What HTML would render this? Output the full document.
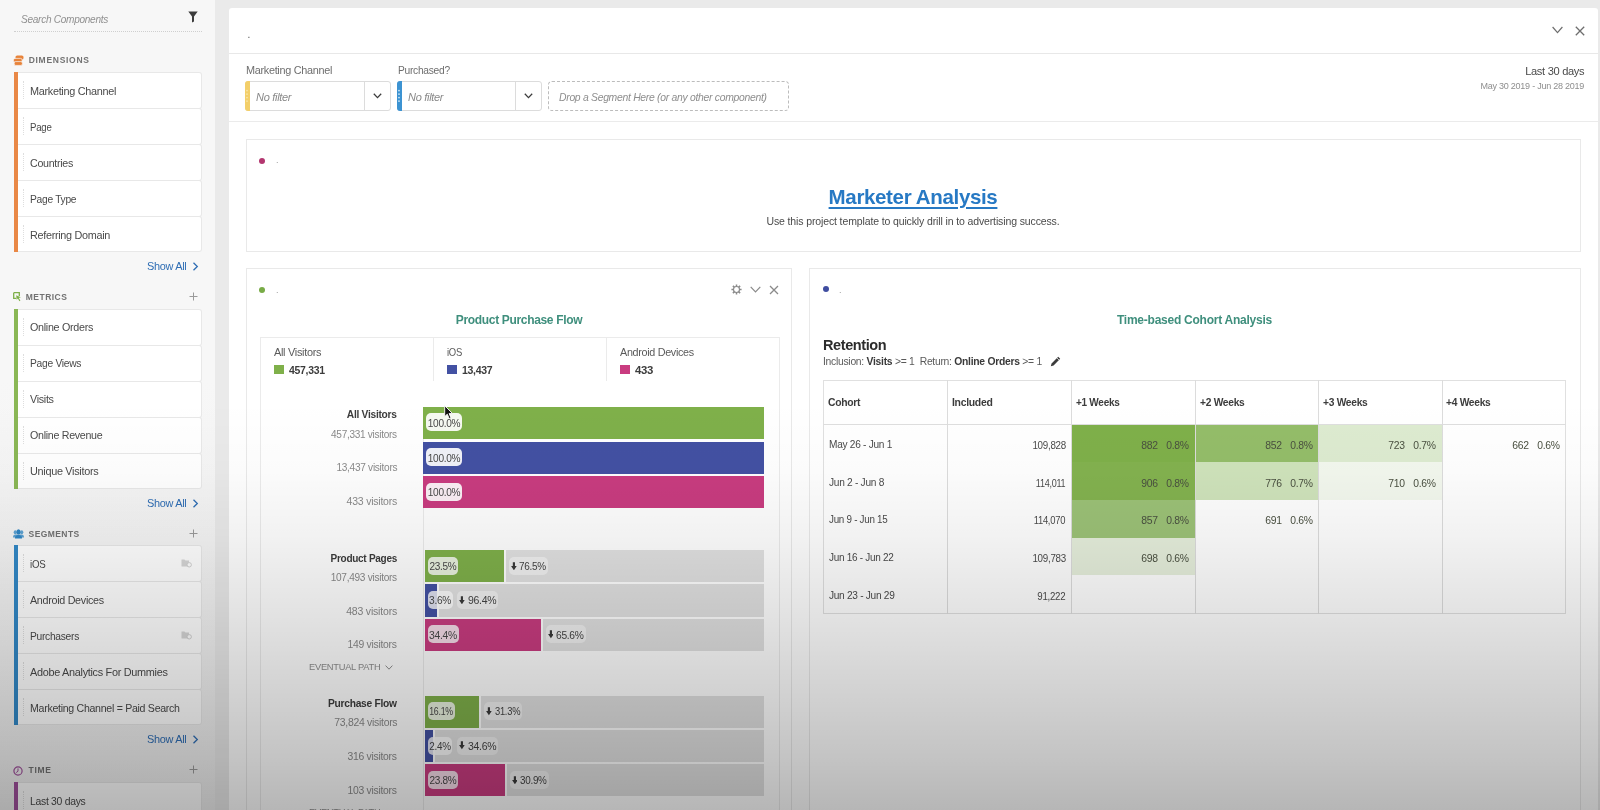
<!DOCTYPE html>
<html><head><meta charset="utf-8"><title>Analysis Workspace</title>
<style>
html,body{margin:0;padding:0;}
html{background:#eaeaea;}
body{width:1600px;height:810px;overflow:hidden;position:relative;background:#eaeaea;font-family:"Liberation Sans",sans-serif;}
#w{left:-4px;top:-4px;width:1608px;height:818px;filter:blur(.4px);}
#w>#o{left:4px;top:4px;width:1600px;height:810px;}
div,span,svg{position:absolute;box-sizing:border-box;}
.t{white-space:nowrap;}

.box{background:#fff;border:1px solid #e9e9e9;}
.item{left:14px;width:188px;height:36px;background:#fff;border:1px solid #e8e8e8;border-left:none;border-radius:0 3px 3px 0;}
.bar{left:14px;width:4px;}
.lbl{background:rgba(255,255,255,.82);border-radius:5px;}
.lbl1{background:rgba(255,255,255,.92);border-radius:5px;}
.lbl2{background:rgba(255,255,255,.5);border-radius:5px;}

</style></head><body>
<div id="w"><div id="o">
<div style="left:0px;top:0px;width:215px;height:810px;background:linear-gradient(to bottom,#f7f7f7 0px,#f7f7f7 380px,#efefef 810px);"></div>
<div style="left:229px;top:8px;width:1368.5px;height:810px;background:#fff;border-radius:3px 3px 0 0;"></div>
<span class="t" style="top:12.0px;font-size:11.5px;line-height:15px;color:#909090;font-style:italic;left:21px;transform-origin:0 50%;transform:scaleX(0.8755);letter-spacing:-0.322px;">Search Components</span>
<svg style="left:188px;top:10.5px" width="10" height="12" viewBox="0 0 10 12"><path d="M0.3 0.6 H9.7 L6 5.6 V10.6 L4 11.4 V5.6 Z" fill="#3c3c3c"/></svg>
<div style="left:14px;top:31px;width:188px;height:1px;border-top:1px dotted #cfcfcf;"></div>
<span class="t" style="top:55.0px;font-size:8.5px;line-height:11px;color:#727272;font-weight:bold;left:28.7px;letter-spacing:0.716px;">DIMENSIONS</span>
<div class="item" style="left:14px;top:72px;width:188px;height:37px;"></div>
<span class="t" style="top:83.7px;font-size:11px;line-height:14px;color:#4a4a4a;left:30px;transform-origin:0 50%;transform:scaleX(0.9873);letter-spacing:-0.308px;">Marketing Channel</span>
<div style="left:23px;top:81px;width:1px;height:18px;border-left:1px dotted #dedede;"></div>
<div class="item" style="left:14px;top:108px;width:188px;height:37px;"></div>
<span class="t" style="top:119.7px;font-size:11px;line-height:14px;color:#4a4a4a;left:30px;transform-origin:0 50%;transform:scaleX(0.8786);letter-spacing:-0.308px;">Page</span>
<div style="left:23px;top:117px;width:1px;height:18px;border-left:1px dotted #dedede;"></div>
<div class="item" style="left:14px;top:144px;width:188px;height:37px;"></div>
<span class="t" style="top:155.7px;font-size:11px;line-height:14px;color:#4a4a4a;left:30px;transform-origin:0 50%;transform:scaleX(0.9705);letter-spacing:-0.308px;">Countries</span>
<div style="left:23px;top:153px;width:1px;height:18px;border-left:1px dotted #dedede;"></div>
<div class="item" style="left:14px;top:180px;width:188px;height:37px;"></div>
<span class="t" style="top:191.7px;font-size:11px;line-height:14px;color:#4a4a4a;left:30px;transform-origin:0 50%;transform:scaleX(0.9328);letter-spacing:-0.308px;">Page Type</span>
<div style="left:23px;top:189px;width:1px;height:18px;border-left:1px dotted #dedede;"></div>
<div class="item" style="left:14px;top:216px;width:188px;height:36px;"></div>
<span class="t" style="top:227.7px;font-size:11px;line-height:14px;color:#4a4a4a;left:30px;transform-origin:0 50%;transform:scaleX(0.9843);letter-spacing:-0.308px;">Referring Domain</span>
<div style="left:23px;top:225px;width:1px;height:18px;border-left:1px dotted #dedede;"></div>
<div style="left:14px;top:72px;width:4px;height:180px;background:#e98846;"></div>
<span class="t" style="top:291.5px;font-size:8.5px;line-height:11px;color:#727272;font-weight:bold;left:25.8px;letter-spacing:0.464px;">METRICS</span>
<svg style="left:189px;top:291.5px" width="9" height="9" viewBox="0 0 9 9"><path d="M4.5 0.5V8.5M0.5 4.5H8.5" stroke="#9a9a9a" stroke-width="1" fill="none"/></svg>
<div class="item" style="left:14px;top:308.5px;width:188px;height:37px;"></div>
<span class="t" style="top:320.2px;font-size:11px;line-height:14px;color:#4a4a4a;left:30px;transform-origin:0 50%;transform:scaleX(0.9770);letter-spacing:-0.308px;">Online Orders</span>
<div style="left:23px;top:317.5px;width:1px;height:18px;border-left:1px dotted #dedede;"></div>
<div class="item" style="left:14px;top:344.5px;width:188px;height:37px;"></div>
<span class="t" style="top:356.2px;font-size:11px;line-height:14px;color:#4a4a4a;left:30px;transform-origin:0 50%;transform:scaleX(0.9341);letter-spacing:-0.308px;">Page Views</span>
<div style="left:23px;top:353.5px;width:1px;height:18px;border-left:1px dotted #dedede;"></div>
<div class="item" style="left:14px;top:380.5px;width:188px;height:37px;"></div>
<span class="t" style="top:392.2px;font-size:11px;line-height:14px;color:#4a4a4a;left:30px;transform-origin:0 50%;transform:scaleX(0.9775);letter-spacing:-0.308px;">Visits</span>
<div style="left:23px;top:389.5px;width:1px;height:18px;border-left:1px dotted #dedede;"></div>
<div class="item" style="left:14px;top:416.5px;width:188px;height:37px;"></div>
<span class="t" style="top:428.2px;font-size:11px;line-height:14px;color:#4a4a4a;left:30px;transform-origin:0 50%;transform:scaleX(0.9708);letter-spacing:-0.308px;">Online Revenue</span>
<div style="left:23px;top:425.5px;width:1px;height:18px;border-left:1px dotted #dedede;"></div>
<div class="item" style="left:14px;top:452.5px;width:188px;height:36px;"></div>
<span class="t" style="top:464.2px;font-size:11px;line-height:14px;color:#4a4a4a;left:30px;transform-origin:0 50%;transform:scaleX(0.9890);letter-spacing:-0.308px;">Unique Visitors</span>
<div style="left:23px;top:461.5px;width:1px;height:18px;border-left:1px dotted #dedede;"></div>
<div style="left:14px;top:308.5px;width:4px;height:180px;background:#8ab755;"></div>
<span class="t" style="top:528.5px;font-size:8.5px;line-height:11px;color:#727272;font-weight:bold;left:28.6px;letter-spacing:0.412px;">SEGMENTS</span>
<svg style="left:189px;top:528.5px" width="9" height="9" viewBox="0 0 9 9"><path d="M4.5 0.5V8.5M0.5 4.5H8.5" stroke="#9a9a9a" stroke-width="1" fill="none"/></svg>
<div class="item" style="left:14px;top:545px;width:188px;height:37px;"></div>
<span class="t" style="top:556.7px;font-size:11px;line-height:14px;color:#4a4a4a;left:30px;transform-origin:0 50%;transform:scaleX(0.8841);letter-spacing:-0.308px;">iOS</span>
<div style="left:23px;top:554px;width:1px;height:18px;border-left:1px dotted #dedede;"></div>
<div class="item" style="left:14px;top:581px;width:188px;height:37px;"></div>
<span class="t" style="top:592.7px;font-size:11px;line-height:14px;color:#4a4a4a;left:30px;transform-origin:0 50%;transform:scaleX(0.9778);letter-spacing:-0.308px;">Android Devices</span>
<div style="left:23px;top:590px;width:1px;height:18px;border-left:1px dotted #dedede;"></div>
<div class="item" style="left:14px;top:617px;width:188px;height:37px;"></div>
<span class="t" style="top:628.7px;font-size:11px;line-height:14px;color:#4a4a4a;left:30px;transform-origin:0 50%;transform:scaleX(0.9323);letter-spacing:-0.308px;">Purchasers</span>
<div style="left:23px;top:626px;width:1px;height:18px;border-left:1px dotted #dedede;"></div>
<div class="item" style="left:14px;top:653px;width:188px;height:37px;"></div>
<span class="t" style="top:664.7px;font-size:11px;line-height:14px;color:#4a4a4a;left:30px;transform-origin:0 50%;transform:scaleX(0.9897);letter-spacing:-0.308px;">Adobe Analytics For Dummies</span>
<div style="left:23px;top:662px;width:1px;height:18px;border-left:1px dotted #dedede;"></div>
<div class="item" style="left:14px;top:689px;width:188px;height:36px;"></div>
<span class="t" style="top:700.7px;font-size:11px;line-height:14px;color:#4a4a4a;left:30px;transform-origin:0 50%;transform:scaleX(0.9643);letter-spacing:-0.308px;">Marketing Channel = Paid Search</span>
<div style="left:23px;top:698px;width:1px;height:18px;border-left:1px dotted #dedede;"></div>
<div style="left:14px;top:545px;width:4px;height:180px;background:#3288c6;"></div>
<span class="t" style="top:764.5px;font-size:8.5px;line-height:11px;color:#727272;font-weight:bold;left:28.6px;letter-spacing:0.672px;">TIME</span>
<svg style="left:189px;top:764.5px" width="9" height="9" viewBox="0 0 9 9"><path d="M4.5 0.5V8.5M0.5 4.5H8.5" stroke="#9a9a9a" stroke-width="1" fill="none"/></svg>
<div class="item" style="left:14px;top:782px;width:188px;height:36px;"></div>
<span class="t" style="top:793.7px;font-size:11px;line-height:14px;color:#4a4a4a;left:30px;transform-origin:0 50%;transform:scaleX(0.9458);letter-spacing:-0.308px;">Last 30 days</span>
<div style="left:23px;top:791px;width:1px;height:18px;border-left:1px dotted #dedede;"></div>
<div style="left:14px;top:782px;width:4px;height:36px;background:#a0509c;"></div>
<span class="t" style="top:259.0px;font-size:11px;line-height:14px;color:#2e6db4;left:146.6px;transform-origin:0 50%;transform:scaleX(0.9940);letter-spacing:-0.308px;">Show All</span>
<svg style="left:192px;top:261.5px" width="7" height="9" viewBox="0 0 7 9"><path d="M1.5 0.8L5.3 4.5L1.5 8.2" stroke="#2e6db4" stroke-width="1.3" fill="none"/></svg>
<span class="t" style="top:496.0px;font-size:11px;line-height:14px;color:#2e6db4;left:146.6px;transform-origin:0 50%;transform:scaleX(0.9940);letter-spacing:-0.308px;">Show All</span>
<svg style="left:192px;top:498.5px" width="7" height="9" viewBox="0 0 7 9"><path d="M1.5 0.8L5.3 4.5L1.5 8.2" stroke="#2e6db4" stroke-width="1.3" fill="none"/></svg>
<span class="t" style="top:732.3px;font-size:11px;line-height:14px;color:#2e6db4;left:146.6px;transform-origin:0 50%;transform:scaleX(0.9940);letter-spacing:-0.308px;">Show All</span>
<svg style="left:192px;top:734.8px" width="7" height="9" viewBox="0 0 7 9"><path d="M1.5 0.8L5.3 4.5L1.5 8.2" stroke="#2e6db4" stroke-width="1.3" fill="none"/></svg>
<svg style="left:12.5px;top:55px" width="11" height="11" viewBox="0 0 11 11"><rect x="2.5" y="0.5" width="8" height="4.2" rx="1.6" fill="#e8833a"/><rect x="0.5" y="3.4" width="8.6" height="3.8" rx="1.5" fill="#e8833a" stroke="#f7f7f7" stroke-width=".7"/><rect x="1.2" y="6.6" width="8.2" height="3.8" rx="1.5" fill="#e8833a" stroke="#f7f7f7" stroke-width=".7"/></svg>
<svg style="left:12.5px;top:292px" width="9" height="10" viewBox="0 0 9 10"><path d="M0.7 0.7H6.3V4" stroke="#7fb04a" stroke-width="1.3" fill="none"/><path d="M0.7 0.7V6.3H3.2" stroke="#7fb04a" stroke-width="1.3" fill="none"/><path d="M3.2 3.2L7.8 5.2L5.8 6L7.4 8.6L6.4 9.2L4.9 6.6L3.6 7.8Z" fill="#7fb04a"/></svg>
<svg style="left:12.8px;top:528.6px" width="11" height="10" viewBox="0 0 11 10"><g fill="#5ea3d3"><ellipse cx="2.3" cy="3.3" rx="1.6" ry="2"/><ellipse cx="8.7" cy="3.3" rx="1.6" ry="2"/><path d="M0 8.6C0 6.6 .8 5.6 2.3 5.6H8.7C10.2 5.6 11 6.6 11 8.6Z"/></g><g fill="#2f86c5"><ellipse cx="5.5" cy="2.9" rx="2.1" ry="2.6"/><path d="M1.9 9.6C1.9 7.2 3.2 5.9 5.5 5.9S9.1 7.2 9.1 9.6Z"/></g></svg>
<svg style="left:13px;top:765.5px" width="10" height="10" viewBox="0 0 10 10"><circle cx="5" cy="5" r="4.1" stroke="#a0509c" stroke-width="1.2" fill="none"/><path d="M5 2.4V5.2L3.2 6.6" stroke="#a0509c" stroke-width="1" fill="none"/></svg>
<svg style="left:180.5px;top:558px" width="11" height="10" viewBox="0 0 11 10"><path d="M0.5 1.5H3.5L4.5 2.5H8V8.5H0.5Z" fill="#d6d6d6"/><circle cx="8.2" cy="6.8" r="2.2" fill="#fff" stroke="#d0d0d0" stroke-width="1"/></svg>
<svg style="left:180.5px;top:630.4px" width="11" height="10" viewBox="0 0 11 10"><path d="M0.5 1.5H3.5L4.5 2.5H8V8.5H0.5Z" fill="#d6d6d6"/><circle cx="8.2" cy="6.8" r="2.2" fill="#fff" stroke="#d0d0d0" stroke-width="1"/></svg>
<div style="left:229px;top:53px;width:1368.5px;height:1px;background:#e8e8e8;"></div>
<div style="left:229px;top:120.5px;width:1368.5px;height:1px;background:#ebebeb;"></div>
<span class="t" style="top:27.5px;font-size:10px;line-height:13px;color:#555;left:247.5px;">.</span>
<svg style="left:1552px;top:26px" width="11" height="8" viewBox="0 0 11 8"><path d="M0.6 1L5.5 6.6L10.4 1" stroke="#6e6e6e" stroke-width="1.2" fill="none"/></svg>
<svg style="left:1575px;top:25.5px" width="10" height="10" viewBox="0 0 10 10"><path d="M0.8 0.8L9.2 9.2M9.2 0.8L0.8 9.2" stroke="#6e6e6e" stroke-width="1.3" fill="none"/></svg>
<span class="t" style="top:63.0px;font-size:11px;line-height:14px;color:#6e6e6e;left:246.2px;transform-origin:0 50%;transform:scaleX(0.9873);letter-spacing:-0.308px;">Marketing Channel</span>
<span class="t" style="top:63.0px;font-size:11px;line-height:14px;color:#6e6e6e;left:397.7px;transform-origin:0 50%;transform:scaleX(0.9310);letter-spacing:-0.308px;">Purchased?</span>
<div style="left:244.5px;top:81px;width:146px;height:29.5px;background:#fff;border:1px solid #dcdcdc;border-radius:3px;"></div>
<div style="left:244.5px;top:81px;width:5.5px;height:29.5px;background:#f3cf6a;border-radius:3px 0 0 3px;"></div>
<div style="left:364px;top:81px;width:1px;height:29.5px;background:#dcdcdc;"></div>
<svg style="left:372.5px;top:93px" width="9" height="6" viewBox="0 0 9 6"><path d="M0.8 0.8L4.5 4.6L8.2 0.8" stroke="#3c3c3c" stroke-width="1.3" fill="none"/></svg>
<span class="t" style="top:89.6px;font-size:11px;line-height:14px;color:#8a8a8a;font-style:italic;left:256.1px;letter-spacing:-0.308px;">No filter</span>
<svg style="left:245.3px;top:89px" width="4" height="14" viewBox="0 0 4 14"><g fill="#f9e6ac"><circle cx="2" cy="1.6" r=".85"/><circle cx="2" cy="5.1" r=".85"/><circle cx="2" cy="8.6" r=".85"/><circle cx="2" cy="12.1" r=".85"/></g></svg>
<div style="left:396.5px;top:81px;width:145.3px;height:29.5px;background:#fff;border:1px solid #dcdcdc;border-radius:3px;"></div>
<div style="left:396.5px;top:81px;width:5.5px;height:29.5px;background:#3c93d2;border-radius:3px 0 0 3px;"></div>
<div style="left:515.3px;top:81px;width:1px;height:29.5px;background:#dcdcdc;"></div>
<svg style="left:523.8px;top:93px" width="9" height="6" viewBox="0 0 9 6"><path d="M0.8 0.8L4.5 4.6L8.2 0.8" stroke="#3c3c3c" stroke-width="1.3" fill="none"/></svg>
<span class="t" style="top:89.6px;font-size:11px;line-height:14px;color:#8a8a8a;font-style:italic;left:408.1px;letter-spacing:-0.308px;">No filter</span>
<svg style="left:397.3px;top:89px" width="4" height="14" viewBox="0 0 4 14"><g fill="#d9ecf8"><circle cx="2" cy="1.6" r=".85"/><circle cx="2" cy="5.1" r=".85"/><circle cx="2" cy="8.6" r=".85"/><circle cx="2" cy="12.1" r=".85"/></g></svg>
<div style="left:548px;top:81px;width:241px;height:29.5px;border:1px dashed #bcbcbc;border-radius:4px;"></div>
<span class="t" style="top:89.6px;font-size:10.5px;line-height:14px;color:#8e8e8e;font-style:italic;left:559.3px;transform-origin:0 50%;transform:scaleX(0.9890);letter-spacing:-0.294px;">Drop a Segment Here (or any other component)</span>
<span class="t" style="top:63.5px;font-size:11.5px;line-height:15px;color:#4a4a4a;right:15.6px;transform-origin:100% 50%;transform:scaleX(0.9649);letter-spacing:-0.322px;">Last 30 days</span>
<span class="t" style="top:80.2px;font-size:9.5px;line-height:12px;color:#8e8e8e;right:15.6px;transform-origin:100% 50%;transform:scaleX(0.9494);letter-spacing:-0.266px;">May 30 2019 - Jun 28 2019</span>
<div class="box" style="left:246px;top:138.5px;width:1334.5px;height:113px;"></div>
<div style="left:259px;top:158px;width:6px;height:6px;background:#b3366f;border-radius:50%;"></div>
<span class="t" style="top:154.0px;font-size:9px;line-height:12px;color:#999;left:276px;">.</span>
<span class="t" style="top:183.0px;font-size:20.5px;line-height:27px;color:#2779c4;font-weight:bold;left:913px;transform:translateX(-50%);letter-spacing:-0.349px;text-decoration:underline;text-decoration-thickness:1.5px;text-underline-offset:2.5px;">Marketer Analysis</span>
<span class="t" style="top:213.5px;font-size:10.5px;line-height:14px;color:#4a4a4a;left:913px;transform:translateX(-50%);letter-spacing:-0.126px;">Use this project template to quickly drill in to advertising success.</span>
<div class="box" style="left:246px;top:267.5px;width:546px;height:560px;"></div>
<div style="left:259px;top:287px;width:6px;height:6px;background:#78ab46;border-radius:50%;"></div>
<span class="t" style="top:283.5px;font-size:9px;line-height:12px;color:#999;left:276px;">.</span>
<svg style="left:730.5px;top:283.5px" width="11" height="11" viewBox="0 0 11 11"><g stroke="#8a8a8a" stroke-width="1.5" fill="none"><path d="M5.5 0.4V10.6M0.4 5.5H10.6M1.9 1.9L9.1 9.1M9.1 1.9L1.9 9.1"/></g><circle cx="5.5" cy="5.5" r="3" fill="#fff" stroke="#8a8a8a" stroke-width="1.1"/></svg>
<svg style="left:750px;top:286px" width="11" height="7" viewBox="0 0 11 7"><path d="M0.7 0.8L5.5 5.8L10.3 0.8" stroke="#8a8a8a" stroke-width="1.2" fill="none"/></svg>
<svg style="left:768.5px;top:284.5px" width="10" height="10" viewBox="0 0 10 10"><path d="M1 1L9 9M9 1L1 9" stroke="#8a8a8a" stroke-width="1.3" fill="none"/></svg>
<span class="t" style="top:312.0px;font-size:12px;line-height:16px;color:#3f8f7d;font-weight:bold;left:519px;transform:translateX(-50%);letter-spacing:-0.336px;">Product Purchase Flow</span>
<div style="left:260px;top:336.5px;width:519.5px;height:500px;border:1px solid #ebebeb;background:#fff;"></div>
<div style="left:433px;top:337px;width:1px;height:43.5px;background:#ebebeb;"></div>
<div style="left:606px;top:337px;width:1px;height:43.5px;background:#ebebeb;"></div>
<span class="t" style="top:345.0px;font-size:11px;line-height:14px;color:#5a5a5a;left:274px;transform-origin:0 50%;transform:scaleX(0.9945);letter-spacing:-0.308px;">All Visitors</span>
<div style="left:274px;top:364.5px;width:9.7px;height:9.5px;background:#7fb04a;"></div>
<span class="t" style="top:362.7px;font-size:11.5px;line-height:15px;color:#3c3c3c;font-weight:bold;left:288.7px;transform-origin:0 50%;transform:scaleX(0.9078);letter-spacing:-0.322px;">457,331</span>
<span class="t" style="top:345.0px;font-size:11px;line-height:14px;color:#5a5a5a;left:447px;transform-origin:0 50%;transform:scaleX(0.8611);letter-spacing:-0.308px;">iOS</span>
<div style="left:447px;top:364.5px;width:9.7px;height:9.5px;background:#4351a3;"></div>
<span class="t" style="top:362.7px;font-size:11.5px;line-height:15px;color:#3c3c3c;font-weight:bold;left:461.7px;transform-origin:0 50%;transform:scaleX(0.9141);letter-spacing:-0.322px;">13,437</span>
<span class="t" style="top:345.0px;font-size:11px;line-height:14px;color:#5a5a5a;left:620px;transform-origin:0 50%;transform:scaleX(0.9791);letter-spacing:-0.308px;">Android Devices</span>
<div style="left:620px;top:364.5px;width:9.7px;height:9.5px;background:#c93c80;"></div>
<span class="t" style="top:362.7px;font-size:11.5px;line-height:15px;color:#3c3c3c;font-weight:bold;left:634.7px;transform-origin:0 50%;transform:scaleX(0.9878);letter-spacing:-0.322px;">433</span>
<div style="left:423px;top:439px;width:1px;height:400px;background:#ebebeb;"></div>
<span class="t" style="top:407.1px;font-size:11px;line-height:14px;color:#3c3c3c;font-weight:bold;right:1203px;transform-origin:100% 50%;transform:scaleX(0.9278);letter-spacing:-0.308px;">All Visitors</span>
<span class="t" style="top:426.8px;font-size:10.5px;line-height:14px;color:#8a8a8a;right:1203px;transform-origin:100% 50%;transform:scaleX(0.9558);letter-spacing:-0.294px;">457,331 visitors</span>
<span class="t" style="top:460.4px;font-size:10.5px;line-height:14px;color:#8a8a8a;right:1203px;transform-origin:100% 50%;transform:scaleX(0.9622);letter-spacing:-0.294px;">13,437 visitors</span>
<span class="t" style="top:494.0px;font-size:10.5px;line-height:14px;color:#8a8a8a;right:1203px;letter-spacing:-0.226px;">433 visitors</span>
<div style="left:423.3px;top:406.8px;width:340.7px;height:32.2px;background:#7fb04a;"></div>
<div class="lbl1" style="left:425.9px;top:413.4px;width:35.8px;height:18px;"></div>
<span class="t" style="top:415.7px;font-size:11px;line-height:14px;color:#484848;left:443.8px;transform:translateX(-50%) scaleX(0.9192);letter-spacing:-0.308px;">100.0%</span>
<div style="left:423.3px;top:441.55px;width:340.7px;height:32.2px;background:#4351a3;"></div>
<div class="lbl1" style="left:425.9px;top:448.15px;width:35.8px;height:18px;"></div>
<span class="t" style="top:450.5px;font-size:11px;line-height:14px;color:#484848;left:443.8px;transform:translateX(-50%) scaleX(0.9192);letter-spacing:-0.308px;">100.0%</span>
<div style="left:423.3px;top:476.3px;width:340.7px;height:32.2px;background:#c93c80;"></div>
<div class="lbl1" style="left:425.9px;top:482.9px;width:35.8px;height:18px;"></div>
<span class="t" style="top:485.2px;font-size:11px;line-height:14px;color:#484848;left:443.8px;transform:translateX(-50%) scaleX(0.9192);letter-spacing:-0.308px;">100.0%</span>
<span class="t" style="top:551.0px;font-size:11px;line-height:14px;color:#3c3c3c;font-weight:bold;right:1203px;transform-origin:100% 50%;transform:scaleX(0.9106);letter-spacing:-0.308px;">Product Pages</span>
<span class="t" style="top:570.0px;font-size:10.5px;line-height:14px;color:#8a8a8a;right:1203px;transform-origin:100% 50%;transform:scaleX(0.9616);letter-spacing:-0.294px;">107,493 visitors</span>
<span class="t" style="top:603.6px;font-size:10.5px;line-height:14px;color:#8a8a8a;right:1203px;letter-spacing:-0.192px;">483 visitors</span>
<span class="t" style="top:637.2px;font-size:10.5px;line-height:14px;color:#8a8a8a;right:1203px;transform-origin:100% 50%;transform:scaleX(0.9883);letter-spacing:-0.294px;">149 visitors</span>
<div style="left:506.3px;top:550px;width:257.7px;height:32.2px;background:#e1e1e1;"></div>
<div style="left:425.2px;top:550px;width:79.3px;height:32.2px;background:#7fb04a;"></div>
<div class="lbl" style="left:427.8px;top:556.6px;width:30.2px;height:18px;"></div>
<span class="t" style="top:558.9px;font-size:11px;line-height:14px;color:#484848;left:442.9px;transform:translateX(-50%) scaleX(0.9102);letter-spacing:-0.308px;">23.5%</span>
<div class="lbl2" style="left:508.7px;top:556.6px;width:39.5px;height:18px;"></div>
<svg style="left:510.8px;top:561.5px" width="5.8" height="8.6" viewBox="0 0 7 9" preserveAspectRatio="none"><path d="M2.2 0.3H4.8V4.3H6.9L3.5 8.7L0.1 4.3H2.2Z" fill="#3a3a3a"/></svg>
<span class="t" style="top:558.9px;font-size:11px;line-height:14px;color:#444;left:519.2px;transform-origin:0 50%;transform:scaleX(0.9068);letter-spacing:-0.308px;">76.5%</span>
<div style="left:438.8px;top:584.4px;width:325.2px;height:32.2px;background:#e1e1e1;"></div>
<div style="left:425.2px;top:584.4px;width:11.8px;height:32.2px;background:#4351a3;"></div>
<div class="lbl" style="left:427.8px;top:591px;width:25.1px;height:18px;"></div>
<span class="t" style="top:593.3px;font-size:11px;line-height:14px;color:#484848;left:440.35px;transform:translateX(-50%) scaleX(0.9184);letter-spacing:-0.308px;">3.6%</span>
<div class="lbl2" style="left:457.2px;top:591px;width:40.9px;height:18px;"></div>
<svg style="left:459.3px;top:595.9px" width="5.8" height="8.6" viewBox="0 0 7 9" preserveAspectRatio="none"><path d="M2.2 0.3H4.8V4.3H6.9L3.5 8.7L0.1 4.3H2.2Z" fill="#3a3a3a"/></svg>
<span class="t" style="top:593.3px;font-size:11px;line-height:14px;color:#444;left:467.7px;transform-origin:0 50%;transform:scaleX(0.9540);letter-spacing:-0.308px;">96.4%</span>
<div style="left:542.9px;top:618.8px;width:221.1px;height:32.2px;background:#e1e1e1;"></div>
<div style="left:425.2px;top:618.8px;width:115.9px;height:32.2px;background:#c93c80;"></div>
<div class="lbl" style="left:427.8px;top:625.4px;width:31.2px;height:18px;"></div>
<span class="t" style="top:627.7px;font-size:11px;line-height:14px;color:#484848;left:443.4px;transform:translateX(-50%) scaleX(0.9439);letter-spacing:-0.308px;">34.4%</span>
<div class="lbl2" style="left:545.6px;top:625.4px;width:40.2px;height:18px;"></div>
<svg style="left:547.7px;top:630.3px" width="5.8" height="8.6" viewBox="0 0 7 9" preserveAspectRatio="none"><path d="M2.2 0.3H4.8V4.3H6.9L3.5 8.7L0.1 4.3H2.2Z" fill="#3a3a3a"/></svg>
<span class="t" style="top:627.7px;font-size:11px;line-height:14px;color:#444;left:556.1px;transform-origin:0 50%;transform:scaleX(0.9304);letter-spacing:-0.308px;">65.6%</span>
<span class="t" style="top:696.0px;font-size:11px;line-height:14px;color:#3c3c3c;font-weight:bold;right:1203px;transform-origin:100% 50%;transform:scaleX(0.9316);letter-spacing:-0.308px;">Purchase Flow</span>
<span class="t" style="top:714.9px;font-size:10.5px;line-height:14px;color:#8a8a8a;right:1203px;transform-origin:100% 50%;transform:scaleX(0.9954);letter-spacing:-0.294px;">73,824 visitors</span>
<span class="t" style="top:749.1px;font-size:10.5px;line-height:14px;color:#8a8a8a;right:1203px;transform-origin:100% 50%;transform:scaleX(0.9883);letter-spacing:-0.294px;">316 visitors</span>
<span class="t" style="top:782.7px;font-size:10.5px;line-height:14px;color:#8a8a8a;right:1203px;transform-origin:100% 50%;transform:scaleX(0.9883);letter-spacing:-0.294px;">103 visitors</span>
<div style="left:481.2px;top:695.5px;width:282.8px;height:32.2px;background:#e1e1e1;"></div>
<div style="left:425.2px;top:695.5px;width:54.2px;height:32.2px;background:#7fb04a;"></div>
<div class="lbl" style="left:427.8px;top:702.1px;width:26.8px;height:18px;"></div>
<span class="t" style="top:704.4px;font-size:11px;line-height:14px;color:#484848;left:441.2px;transform:translateX(-50%) scaleX(0.7956);letter-spacing:-0.308px;">16.1%</span>
<div class="lbl2" style="left:484px;top:702.1px;width:37.8px;height:18px;"></div>
<svg style="left:486.1px;top:707px" width="5.8" height="8.6" viewBox="0 0 7 9" preserveAspectRatio="none"><path d="M2.2 0.3H4.8V4.3H6.9L3.5 8.7L0.1 4.3H2.2Z" fill="#3a3a3a"/></svg>
<span class="t" style="top:704.4px;font-size:11px;line-height:14px;color:#444;left:494.5px;transform-origin:0 50%;transform:scaleX(0.8495);letter-spacing:-0.308px;">31.3%</span>
<div style="left:434.8px;top:729.9px;width:329.2px;height:32.2px;background:#e1e1e1;"></div>
<div style="left:425.2px;top:729.9px;width:7.8px;height:32.2px;background:#4351a3;"></div>
<div class="lbl" style="left:427.8px;top:736.5px;width:24.7px;height:18px;"></div>
<span class="t" style="top:738.8px;font-size:11px;line-height:14px;color:#484848;left:440.15px;transform:translateX(-50%) scaleX(0.9016);letter-spacing:-0.308px;">2.4%</span>
<div class="lbl2" style="left:457.2px;top:736.5px;width:40.9px;height:18px;"></div>
<svg style="left:459.3px;top:741.4px" width="5.8" height="8.6" viewBox="0 0 7 9" preserveAspectRatio="none"><path d="M2.2 0.3H4.8V4.3H6.9L3.5 8.7L0.1 4.3H2.2Z" fill="#3a3a3a"/></svg>
<span class="t" style="top:738.8px;font-size:11px;line-height:14px;color:#444;left:467.7px;transform-origin:0 50%;transform:scaleX(0.9540);letter-spacing:-0.308px;">34.6%</span>
<div style="left:506.8px;top:764.3px;width:257.2px;height:32.2px;background:#e1e1e1;"></div>
<div style="left:425.2px;top:764.3px;width:79.8px;height:32.2px;background:#c93c80;"></div>
<div class="lbl" style="left:427.8px;top:770.9px;width:30.2px;height:18px;"></div>
<span class="t" style="top:773.2px;font-size:11px;line-height:14px;color:#484848;left:442.9px;transform:translateX(-50%) scaleX(0.9102);letter-spacing:-0.308px;">23.8%</span>
<div class="lbl2" style="left:509.5px;top:770.9px;width:39.2px;height:18px;"></div>
<svg style="left:511.6px;top:775.8px" width="5.8" height="8.6" viewBox="0 0 7 9" preserveAspectRatio="none"><path d="M2.2 0.3H4.8V4.3H6.9L3.5 8.7L0.1 4.3H2.2Z" fill="#3a3a3a"/></svg>
<span class="t" style="top:773.2px;font-size:11px;line-height:14px;color:#444;left:520px;transform-origin:0 50%;transform:scaleX(0.8967);letter-spacing:-0.308px;">30.9%</span>
<span class="t" style="top:661.0px;font-size:9.5px;line-height:12px;color:#8e8e8e;left:308.6px;transform-origin:0 50%;transform:scaleX(0.9792);letter-spacing:-0.266px;">EVENTUAL PATH</span>
<svg style="left:385px;top:665px" width="8" height="5" viewBox="0 0 8 5"><path d="M0.6 0.6L4 4.2L7.4 0.6" stroke="#8e8e8e" stroke-width="1" fill="none"/></svg>
<span class="t" style="top:806.0px;font-size:9.5px;line-height:12px;color:#8e8e8e;left:308.6px;transform-origin:0 50%;transform:scaleX(0.9792);letter-spacing:-0.266px;">EVENTUAL PATH</span>
<svg style="left:385px;top:810px" width="8" height="5" viewBox="0 0 8 5"><path d="M0.6 0.6L4 4.2L7.4 0.6" stroke="#8e8e8e" stroke-width="1" fill="none"/></svg>
<svg style="left:444.3px;top:404.5px" width="10" height="15" viewBox="0 0 10 15"><path d="M0.7 0.7V11.6L3.3 9.2L5.2 13.7L7 12.9L5.1 8.6H8.6Z" fill="#111" stroke="#fff" stroke-width=".9"/></svg>
<div class="box" style="left:809px;top:267.5px;width:771.5px;height:560px;"></div>
<div style="left:822.8px;top:286px;width:6px;height:6px;background:#3f4da0;border-radius:50%;"></div>
<span class="t" style="top:283.5px;font-size:9px;line-height:12px;color:#999;left:839px;">.</span>
<span class="t" style="top:312.0px;font-size:12px;line-height:16px;color:#3f8f7d;font-weight:bold;left:1194.5px;transform:translateX(-50%);letter-spacing:-0.245px;">Time-based Cohort Analysis</span>
<span class="t" style="top:335.5px;font-size:14.5px;line-height:19px;color:#2c2c2c;font-weight:bold;left:823px;letter-spacing:-0.406px;">Retention</span>
<span class="t" id="incl" style="left:823px;top:354px;font-size:10.5px;line-height:14px;color:#5a5a5a;letter-spacing:-0.28px;transform-origin:0 50%;transform:scaleX(.985);">Inclusion: <b style="color:#3a3a3a">Visits</b> &gt;= 1&nbsp; Return: <b style="color:#3a3a3a">Online Orders</b> &gt;= 1</span>
<svg style="left:1050px;top:355.5px" width="11" height="11" viewBox="0 0 11 11"><path d="M8.2 0.8L10.2 2.8L3.6 9.4L0.8 10.2L1.6 7.4Z" fill="#3c3c3c"/><path d="M7 2L9 4" stroke="#fff" stroke-width=".7"/></svg>
<div style="left:823px;top:380px;width:742.5px;height:233.5px;background:#fff;"></div>
<div style="left:1071.5px;top:424px;width:123.5px;height:38px;background:#7fb04a;"></div>
<div style="left:1071.5px;top:462px;width:123.5px;height:38px;background:#83b24f;"></div>
<div style="left:1071.5px;top:500px;width:123.5px;height:37.7px;background:#9cc277;"></div>
<div style="left:1071.5px;top:537.7px;width:123.5px;height:37.8px;background:#e6efdc;"></div>
<div style="left:1195px;top:424px;width:123.5px;height:38px;background:#94bd69;"></div>
<div style="left:1195px;top:462px;width:123.5px;height:38px;background:#cfe3bb;"></div>
<div style="left:1318.5px;top:424px;width:123.5px;height:38px;background:#ddebd0;"></div>
<div style="left:1318.5px;top:462px;width:123.5px;height:38px;background:#f3f8ee;"></div>
<div style="left:823px;top:380px;width:742.5px;height:233.5px;border:1px solid #e0e0e0;"></div>
<div style="left:823px;top:423.5px;width:742.5px;height:1px;background:#dedede;"></div>
<div style="left:947px;top:380px;width:1px;height:233.5px;background:#dcdcdc;"></div>
<div style="left:1071px;top:380px;width:1px;height:233.5px;background:#dcdcdc;"></div>
<div style="left:1194.5px;top:380px;width:1px;height:233.5px;background:#dcdcdc;"></div>
<div style="left:1318px;top:380px;width:1px;height:233.5px;background:#dcdcdc;"></div>
<div style="left:1441.5px;top:380px;width:1px;height:233.5px;background:#dcdcdc;"></div>
<span class="t" style="top:395.0px;font-size:10.5px;line-height:14px;color:#3c3c3c;font-weight:bold;left:828px;transform-origin:0 50%;transform:scaleX(0.9860);letter-spacing:-0.294px;">Cohort</span>
<span class="t" style="top:395.0px;font-size:10.5px;line-height:14px;color:#3c3c3c;font-weight:bold;left:952.1px;transform-origin:0 50%;transform:scaleX(0.9922);letter-spacing:-0.294px;">Included</span>
<span class="t" style="top:395.0px;font-size:10.5px;line-height:14px;color:#3c3c3c;font-weight:bold;left:1075.8px;transform-origin:0 50%;transform:scaleX(0.9536);letter-spacing:-0.294px;">+1 Weeks</span>
<span class="t" style="top:395.0px;font-size:10.5px;line-height:14px;color:#3c3c3c;font-weight:bold;left:1199.5px;transform-origin:0 50%;transform:scaleX(0.9755);letter-spacing:-0.294px;">+2 Weeks</span>
<span class="t" style="top:395.0px;font-size:10.5px;line-height:14px;color:#3c3c3c;font-weight:bold;left:1323px;transform-origin:0 50%;transform:scaleX(0.9755);letter-spacing:-0.294px;">+3 Weeks</span>
<span class="t" style="top:395.0px;font-size:10.5px;line-height:14px;color:#3c3c3c;font-weight:bold;left:1446px;transform-origin:0 50%;transform:scaleX(0.9755);letter-spacing:-0.294px;">+4 Weeks</span>
<span class="t" style="top:436.5px;font-size:10.5px;line-height:14px;color:#4a4a4a;left:829px;transform-origin:0 50%;transform:scaleX(0.9642);letter-spacing:-0.294px;">May 26 - Jun 1</span>
<span class="t" style="top:437.5px;font-size:10.5px;line-height:14px;color:#4a4a4a;right:534.5px;transform-origin:100% 50%;transform:scaleX(0.9329);letter-spacing:-0.294px;">109,828</span>
<span class="t" style="top:437.5px;font-size:10.5px;line-height:14px;color:#4a5040;right:411px;transform-origin:100% 50%;transform:scaleX(0.9885);letter-spacing:-0.294px;">0.8%</span>
<span class="t" style="top:437.5px;font-size:10.5px;line-height:14px;color:#4a5040;right:442px;transform-origin:100% 50%;transform:scaleX(0.9910);letter-spacing:-0.294px;">882</span>
<span class="t" style="top:437.5px;font-size:10.5px;line-height:14px;color:#4a5040;right:287.5px;transform-origin:100% 50%;transform:scaleX(0.9885);letter-spacing:-0.294px;">0.8%</span>
<span class="t" style="top:437.5px;font-size:10.5px;line-height:14px;color:#4a5040;right:318.5px;transform-origin:100% 50%;transform:scaleX(0.9910);letter-spacing:-0.294px;">852</span>
<span class="t" style="top:437.5px;font-size:10.5px;line-height:14px;color:#4a5040;right:164px;transform-origin:100% 50%;transform:scaleX(0.9885);letter-spacing:-0.294px;">0.7%</span>
<span class="t" style="top:437.5px;font-size:10.5px;line-height:14px;color:#4a5040;right:195px;transform-origin:100% 50%;transform:scaleX(0.9910);letter-spacing:-0.294px;">723</span>
<span class="t" style="top:437.5px;font-size:10.5px;line-height:14px;color:#4a5040;right:40.5px;transform-origin:100% 50%;transform:scaleX(0.9885);letter-spacing:-0.294px;">0.6%</span>
<span class="t" style="top:437.5px;font-size:10.5px;line-height:14px;color:#4a5040;right:71.5px;transform-origin:100% 50%;transform:scaleX(0.9910);letter-spacing:-0.294px;">662</span>
<span class="t" style="top:474.5px;font-size:10.5px;line-height:14px;color:#4a4a4a;left:829px;transform-origin:0 50%;transform:scaleX(0.9669);letter-spacing:-0.294px;">Jun 2 - Jun 8</span>
<span class="t" style="top:475.5px;font-size:10.5px;line-height:14px;color:#4a4a4a;right:534.5px;transform-origin:100% 50%;transform:scaleX(0.8589);letter-spacing:-0.294px;">114,011</span>
<span class="t" style="top:475.5px;font-size:10.5px;line-height:14px;color:#4a5040;right:411px;transform-origin:100% 50%;transform:scaleX(0.9885);letter-spacing:-0.294px;">0.8%</span>
<span class="t" style="top:475.5px;font-size:10.5px;line-height:14px;color:#4a5040;right:442px;transform-origin:100% 50%;transform:scaleX(0.9910);letter-spacing:-0.294px;">906</span>
<span class="t" style="top:475.5px;font-size:10.5px;line-height:14px;color:#4a5040;right:287.5px;transform-origin:100% 50%;transform:scaleX(0.9885);letter-spacing:-0.294px;">0.7%</span>
<span class="t" style="top:475.5px;font-size:10.5px;line-height:14px;color:#4a5040;right:318.5px;transform-origin:100% 50%;transform:scaleX(0.9910);letter-spacing:-0.294px;">776</span>
<span class="t" style="top:475.5px;font-size:10.5px;line-height:14px;color:#4a5040;right:164px;transform-origin:100% 50%;transform:scaleX(0.9885);letter-spacing:-0.294px;">0.6%</span>
<span class="t" style="top:475.5px;font-size:10.5px;line-height:14px;color:#4a5040;right:195px;transform-origin:100% 50%;transform:scaleX(0.9910);letter-spacing:-0.294px;">710</span>
<span class="t" style="top:512.2px;font-size:10.5px;line-height:14px;color:#4a4a4a;left:829px;transform-origin:0 50%;transform:scaleX(0.9370);letter-spacing:-0.294px;">Jun 9 - Jun 15</span>
<span class="t" style="top:513.2px;font-size:10.5px;line-height:14px;color:#4a4a4a;right:534.5px;transform-origin:100% 50%;transform:scaleX(0.8967);letter-spacing:-0.294px;">114,070</span>
<span class="t" style="top:513.2px;font-size:10.5px;line-height:14px;color:#4a5040;right:411px;transform-origin:100% 50%;transform:scaleX(0.9885);letter-spacing:-0.294px;">0.8%</span>
<span class="t" style="top:513.2px;font-size:10.5px;line-height:14px;color:#4a5040;right:442px;transform-origin:100% 50%;transform:scaleX(0.9910);letter-spacing:-0.294px;">857</span>
<span class="t" style="top:513.2px;font-size:10.5px;line-height:14px;color:#4a5040;right:287.5px;transform-origin:100% 50%;transform:scaleX(0.9885);letter-spacing:-0.294px;">0.6%</span>
<span class="t" style="top:513.2px;font-size:10.5px;line-height:14px;color:#4a5040;right:318.5px;transform-origin:100% 50%;transform:scaleX(0.9910);letter-spacing:-0.294px;">691</span>
<span class="t" style="top:550.0px;font-size:10.5px;line-height:14px;color:#4a4a4a;left:829px;transform-origin:0 50%;transform:scaleX(0.9488);letter-spacing:-0.294px;">Jun 16 - Jun 22</span>
<span class="t" style="top:551.0px;font-size:10.5px;line-height:14px;color:#4a4a4a;right:534.5px;transform-origin:100% 50%;transform:scaleX(0.9329);letter-spacing:-0.294px;">109,783</span>
<span class="t" style="top:551.0px;font-size:10.5px;line-height:14px;color:#4a5040;right:411px;transform-origin:100% 50%;transform:scaleX(0.9885);letter-spacing:-0.294px;">0.6%</span>
<span class="t" style="top:551.0px;font-size:10.5px;line-height:14px;color:#4a5040;right:442px;transform-origin:100% 50%;transform:scaleX(0.9910);letter-spacing:-0.294px;">698</span>
<span class="t" style="top:588.0px;font-size:10.5px;line-height:14px;color:#4a4a4a;left:829px;transform-origin:0 50%;transform:scaleX(0.9635);letter-spacing:-0.294px;">Jun 23 - Jun 29</span>
<span class="t" style="top:589.0px;font-size:10.5px;line-height:14px;color:#4a4a4a;right:534.5px;transform-origin:100% 50%;transform:scaleX(0.9222);letter-spacing:-0.294px;">91,222</span>
<div style="left:0px;top:0px;width:1600px;height:810px;background:linear-gradient(to bottom, rgba(0,0,0,0) 0px, rgba(0,0,0,0) 400px, rgba(0,0,0,.015) 470px, rgba(0,0,0,.055) 540px, rgba(0,0,0,.118) 620px, rgba(0,0,0,.185) 700px, rgba(0,0,0,.235) 760px, rgba(0,0,0,.285) 810px);pointer-events:none;"></div>
</div></div>
</body></html>
